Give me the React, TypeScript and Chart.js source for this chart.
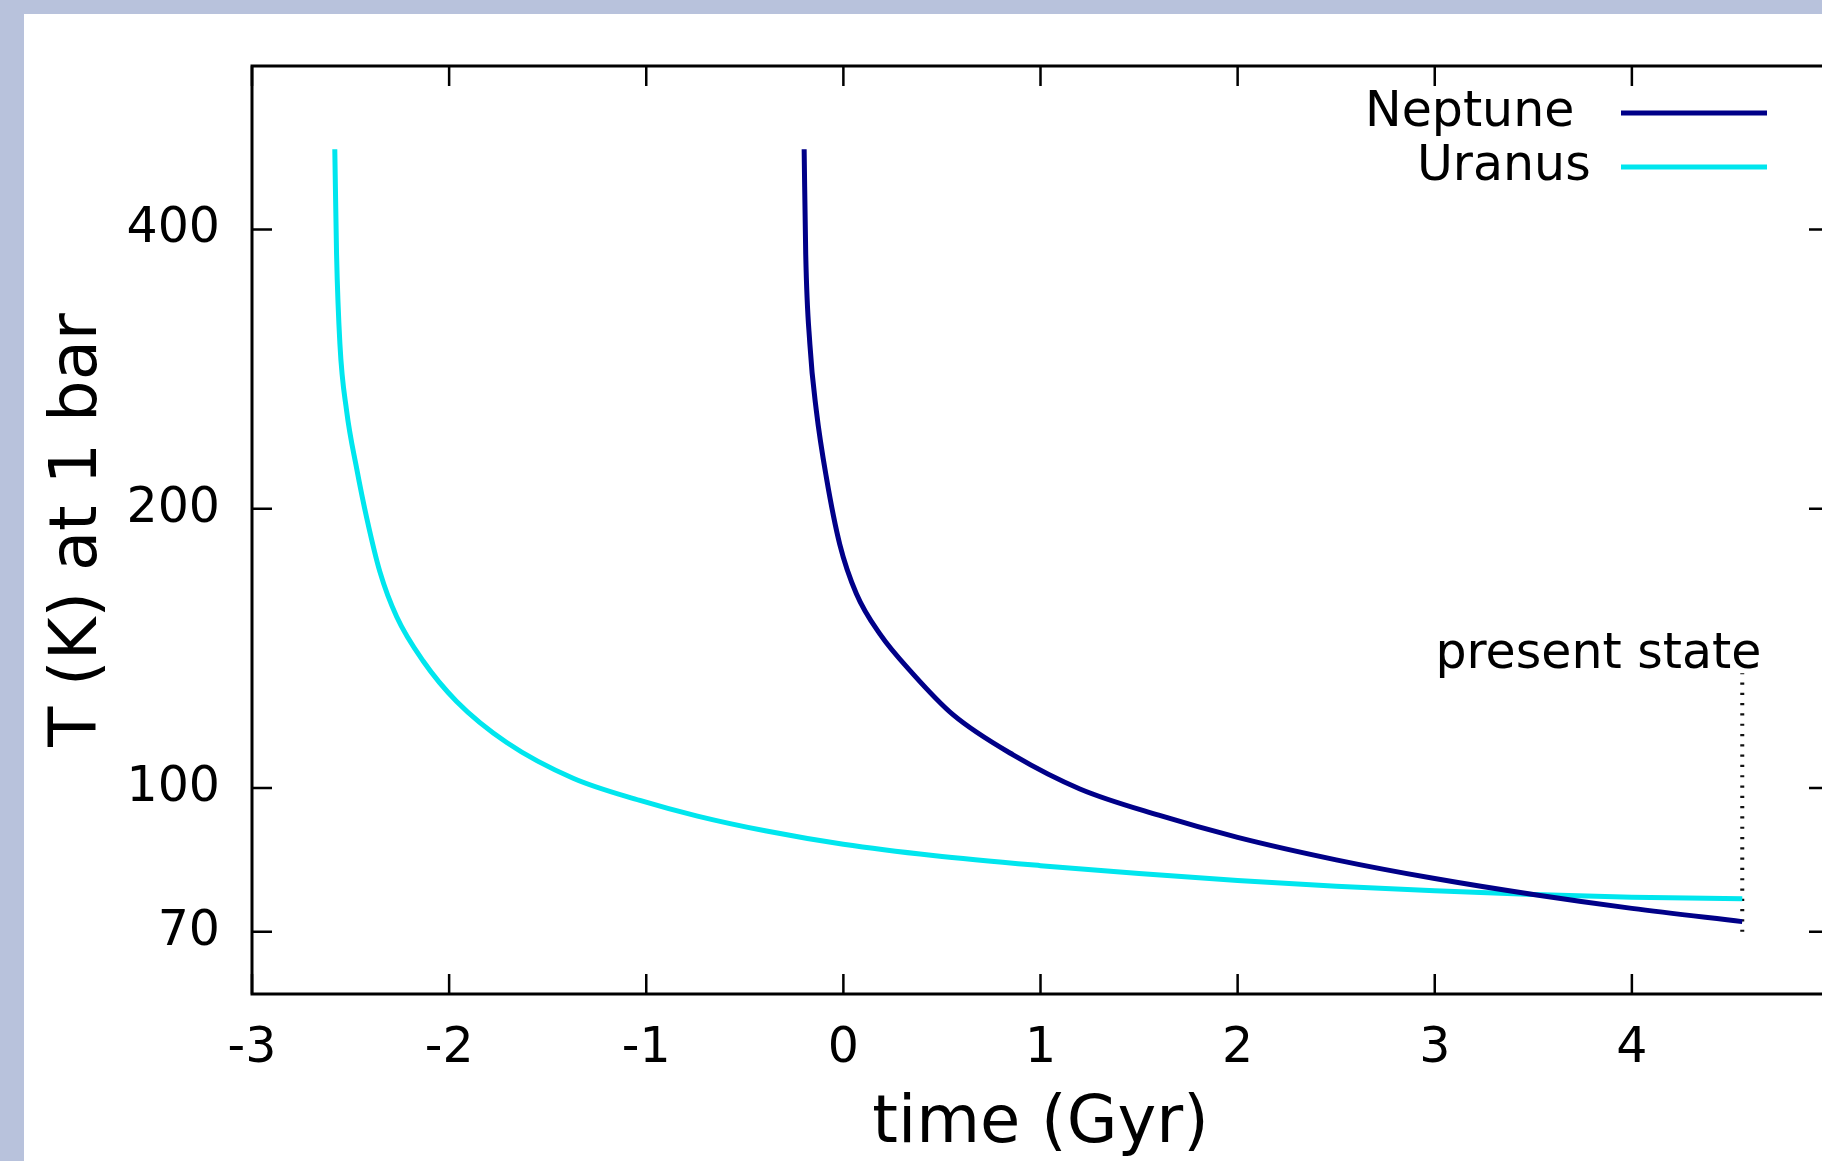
import React, { useEffect, useRef } from 'react';
import { Chart, registerables } from 'chart.js';

Chart.register(...registerables);

// ---- data (time in Gyr, temperature at 1 bar in K) ----
const neptuneTime = [-0.199, -0.191, -0.17, -0.137, -0.086, -0.018, 0.066, 0.185, 0.354, 0.556, 0.861, 1.2, 1.6, 2.0, 2.5, 3.0, 3.5, 4.0, 4.56];
const neptuneTemp = [488, 376, 301, 255, 216, 183, 162, 146.6, 132.7, 120, 108.6, 99.8, 93.5, 88.5, 83.7, 79.9, 76.8, 74.2, 71.8];

const uranusTime = [-2.58, -2.571, -2.554, -2.52, -2.469, -2.418, -2.351, -2.266, -2.131, -1.962, -1.708, -1.371, -1.032, -0.74, -0.39, 0, 0.455, 1.0, 1.5, 2.0, 2.5, 3.0, 3.5, 4.0, 4.56];
const uranusTemp = [488, 376, 301, 255, 221, 195.5, 171, 153, 137, 124, 112, 102.5, 97, 93.3, 89.9, 87.0, 84.6, 82.5, 80.9, 79.5, 78.4, 77.5, 76.8, 76.3, 76.0];

const presentTime = [4.56, 4.56];
const presentTemp = [70, 133];
const presentLabel = 'present state';
const presentLabelPos = { x: 3.83, y: 134.7 };

const seriesNames = ['Neptune', 'Uranus'];
const seriesColors = ['#000088', '#00e6ee'];

const xTickValues = [-3, -2, -1, 0, 1, 2, 3, 4];
const yTickValues = [70, 100, 200, 400];
const xRange = [-3, 5];
const yRange = [60, 600];

const xTitle = 'time (Gyr)';
const yTitle = 'T (K) at 1 bar';

const FONT = '"DejaVu Sans", "Liberation Sans", sans-serif';
const LABEL_SIZE = 49;
const TITLE_SIZE = 65.5;

const toPoints = (xs: number[], ys: number[]) => xs.map((x, i) => ({ x, y: ys[i] }));

const framePlugin = {
  id: 'gnuplotFrame',
  afterDatasetsDraw(chart: any) {
    const { ctx, chartArea: a, scales } = chart;
    const xs = scales.x;
    const ys = scales.y;
    ctx.save();
    // inward ticks (mirrored)
    const tl = 20;
    ctx.strokeStyle = '#000';
    ctx.lineWidth = 2.5;
    ctx.beginPath();
    for (const v of xTickValues) {
      const px = xs.getPixelForValue(v);
      ctx.moveTo(px, a.bottom);
      ctx.lineTo(px, a.bottom - tl);
      ctx.moveTo(px, a.top);
      ctx.lineTo(px, a.top + tl);
    }
    for (const v of yTickValues) {
      const py = ys.getPixelForValue(v);
      ctx.moveTo(a.left, py);
      ctx.lineTo(a.left + tl, py);
      ctx.moveTo(a.right, py);
      ctx.lineTo(a.right - tl, py);
    }
    ctx.stroke();
    // border box
    ctx.lineWidth = 3;
    ctx.strokeRect(a.left, a.top, a.right - a.left, a.bottom - a.top);

    // legend (gnuplot style: text, then line sample)
    ctx.font = `${LABEL_SIZE}px ${FONT}`;
    ctx.fillStyle = '#000';
    ctx.textBaseline = 'middle';
    ctx.textAlign = 'left';
    const legendRows = [
      { textX: a.right - 464, y: a.top + 47 },
      { textX: a.right - 412, y: a.top + 101 },
    ];
    legendRows.forEach((row, i) => {
      ctx.fillText(seriesNames[i], row.textX, row.y);
      ctx.strokeStyle = seriesColors[i];
      ctx.lineWidth = 5;
      ctx.beginPath();
      ctx.moveTo(a.right - 208, row.y);
      ctx.lineTo(a.right - 62, row.y);
      ctx.stroke();
    });

    // present state label
    ctx.textAlign = 'center';
    ctx.textBaseline = 'alphabetic';
    ctx.fillStyle = '#000';
    ctx.fillText(presentLabel, xs.getPixelForValue(presentLabelPos.x), ys.getPixelForValue(presentLabelPos.y));
    ctx.restore();
  },
};

export default function App() {
  const ref = useRef<HTMLCanvasElement>(null);

  useEffect(() => {
    if (!ref.current) return;
    Chart.defaults.font.family = FONT;
    const chart = new Chart(ref.current, {
      type: 'line',
      data: {
        datasets: [
          {
            label: seriesNames[0],
            data: toPoints(neptuneTime, neptuneTemp),
            borderColor: seriesColors[0],
            borderWidth: 5,
            pointRadius: 0,
            cubicInterpolationMode: 'monotone',
            fill: false,
          },
          {
            label: seriesNames[1],
            data: toPoints(uranusTime, uranusTemp),
            borderColor: seriesColors[1],
            borderWidth: 5,
            pointRadius: 0,
            cubicInterpolationMode: 'monotone',
            fill: false,
          },
          {
            label: presentLabel,
            data: toPoints(presentTime, presentTemp),
            borderColor: '#111',
            borderWidth: 4,
            borderDash: [2.2, 8.1],
            pointRadius: 0,
            fill: false,
          },
        ],
      },
      options: {
        responsive: false,
        animation: false,
        devicePixelRatio: 1,
        layout: { padding: { left: 0, top: 52, right: 3, bottom: 0 } },
        plugins: { legend: { display: false }, tooltip: { enabled: false } },
        elements: { point: { radius: 0 } },
        scales: {
          x: {
            type: 'linear',
            min: xRange[0],
            max: xRange[1],
            afterBuildTicks: (s: any) => {
              s.ticks = xTickValues.map((v) => ({ value: v }));
            },
            afterFit: (s: any) => {
              s.height = 167;
              s.paddingLeft = 0;
              s.paddingRight = 0;
            },
            grid: { display: false, drawTicks: false },
            border: { display: false },
            ticks: {
              font: { size: LABEL_SIZE, family: FONT },
              color: '#000',
              padding: 26,
              maxRotation: 0,
              autoSkip: false,
              callback: (v: any) => String(v),
            },
            title: {
              display: true,
              text: xTitle,
              color: '#000',
              font: { size: TITLE_SIZE, lineHeight: 1, family: FONT },
              padding: { top: 0, bottom: 3 },
            },
          },
          y: {
            type: 'logarithmic',
            min: yRange[0],
            max: yRange[1],
            afterBuildTicks: (s: any) => {
              s.ticks = yTickValues.map((v) => ({ value: v }));
            },
            afterFit: (s: any) => {
              s.width = 228;
              s.paddingTop = 0;
              s.paddingBottom = 0;
            },
            grid: { display: false, drawTicks: false },
            border: { display: false },
            ticks: {
              font: { size: LABEL_SIZE, family: FONT },
              color: '#000',
              padding: 32,
              autoSkip: false,
              callback: (v: any) => String(v),
            },
            title: {
              display: true,
              text: yTitle,
              color: '#000',
              font: { size: TITLE_SIZE, lineHeight: 1, family: FONT },
              padding: { top: 22, bottom: 0 },
            },
          },
        },
      } as any,
      plugins: [framePlugin],
    } as any);
    return () => chart.destroy();
  }, []);

  return (
    <div
      style={{
        position: 'fixed',
        left: 0,
        top: 0,
        width: 1822,
        height: 1161,
        background: '#b8c2dc',
        overflow: 'hidden',
      }}
    >
      <div
        style={{
          position: 'absolute',
          left: 24,
          top: 14,
          width: 1808,
          height: 1147,
          background: '#ffffff',
        }}
      >
        <canvas
          ref={ref}
          width={1808}
          height={1147}
          style={{ display: 'block', width: 1808, height: 1147 }}
        />
      </div>
    </div>
  );
}
